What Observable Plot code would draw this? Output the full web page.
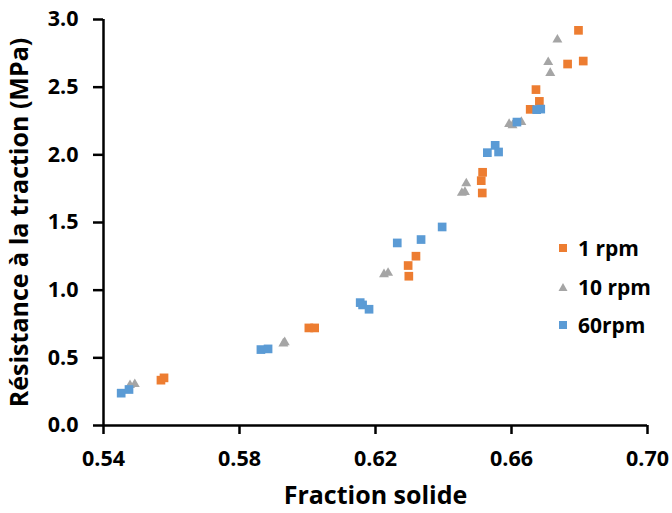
<!DOCTYPE html>
<html>
<head>
<meta charset="utf-8">
<script src="https://cdn.jsdelivr.net/npm/d3@7"></script>
<script src="https://cdn.jsdelivr.net/npm/@observablehq/plot@0.6"></script>
<style>
  html, body { margin: 0; padding: 0; background: #fff; }
  #wrap { position: relative; width: 672px; height: 513px; font-family: "Open Sans", Lato, sans-serif; }
  #legend { position: absolute; left: 556px; top: 229px; font-weight: bold; font-size: 21px; color: #000; }
  #legend .row { display: flex; align-items: center; height: 38.5px; }
  #legend svg { width: 14px; height: 14px; margin-right: 8px; }
</style>
</head>
<body>
<div id="wrap"><div id="legend"></div></div>
<script>
// Series: 1 rpm (orange squares)
const rpm1X = [0.5569, 0.5578, 0.6004, 0.6021, 0.6298, 0.6296, 0.6319, 0.6511, 0.6514, 0.6515, 0.6655, 0.6682, 0.6672, 0.6765, 0.6811, 0.6797];
const rpm1Y = [0.335, 0.352, 0.721, 0.721, 1.103, 1.182, 1.251, 1.809, 1.718, 1.871, 2.336, 2.395, 2.482, 2.671, 2.693, 2.920];
// Series: 10 rpm (gray triangles)
const rpm10X = [0.5478, 0.5492, 0.5929, 0.5933, 0.6225, 0.6237, 0.6454, 0.6463, 0.6467, 0.6593, 0.6603, 0.6629, 0.6708, 0.6714, 0.6735];
const rpm10Y = [0.298, 0.305, 0.605, 0.615, 1.117, 1.127, 1.718, 1.725, 1.789, 2.227, 2.218, 2.242, 2.685, 2.604, 2.851];
// Series: 60 rpm (blue squares)
const rpm60X = [0.5452, 0.5475, 0.5863, 0.5884, 0.6155, 0.6162, 0.6181, 0.6264, 0.6334, 0.6396, 0.6529, 0.6552, 0.6562, 0.6616, 0.6674, 0.6686];
const rpm60Y = [0.239, 0.266, 0.561, 0.566, 0.908, 0.891, 0.859, 1.349, 1.374, 1.467, 2.016, 2.070, 2.021, 2.242, 2.334, 2.338];

const seriesNames = ["1 rpm", "10 rpm", "60rpm"];
const seriesColors = ["#ED7D31", "#A5A5A5", "#5B9BD5"];
const xTicks = [0.54, 0.58, 0.62, 0.66, 0.70];
const yTicks = [0, 0.5, 1.0, 1.5, 2.0, 2.5, 3.0];
const xTitle = "Fraction solide";
const yTitle = "Résistance à la traction (MPa)";

const toRows = (xs, ys) => xs.map((x, i) => ({x, y: ys[i]}));
const d1 = toRows(rpm1X, rpm1Y);
const d10 = toRows(rpm10X, rpm10Y);
const d60 = toRows(rpm60X, rpm60Y);

const chart = Plot.plot({
  width: 672,
  height: 513,
  marginLeft: 103,
  marginRight: 25,
  marginTop: 19,
  marginBottom: 88,
  style: {fontFamily: "'Open Sans', Lato, sans-serif", fontWeight: "bold", color: "#000", background: "#fff"},
  x: {domain: [0.54, 0.70]},
  y: {domain: [0, 3]},
  marks: [
    Plot.axisX({ticks: xTicks, tickFormat: d3.format(".2f"), tickSize: 9, tickPadding: 16, fontSize: 21.5, strokeWidth: 2.5, label: null}),
    Plot.axisY({ticks: yTicks, tickFormat: d3.format(".1f"), tickSize: 10, tickPadding: 15, fontSize: 21.5, strokeWidth: 2.5, label: null}),
    Plot.axisX({ticks: [], tickSize: 0, label: xTitle, labelAnchor: "center", labelArrow: "none", labelOffset: 78, fontSize: 25}),
    Plot.axisY({ticks: [], tickSize: 0, label: yTitle, labelAnchor: "center", labelArrow: "none", labelOffset: 93, fontSize: 25}),
    Plot.ruleY([0], {stroke: "#000", strokeWidth: 2.5}),
    Plot.ruleX([0.54], {stroke: "#000", strokeWidth: 2.5}),
    Plot.dot(d1, {x: "x", y: "y", symbol: "square", r: 4.9, fill: seriesColors[0], stroke: "none"}),
    Plot.dot(d10, {x: "x", y: "y", symbol: "triangle", r: 3.7, fill: seriesColors[1], stroke: "none"}),
    Plot.dot(d60, {x: "x", y: "y", symbol: "square", r: 4.9, fill: seriesColors[2], stroke: "none"})
  ]
});
const wrap = document.getElementById("wrap");
wrap.insertBefore(chart, wrap.firstChild);
chart.style.position = "absolute";
chart.style.left = "0";
chart.style.top = "0";

// legend
const legend = document.getElementById("legend");
const shapes = ["square", "triangle", "square"];
seriesNames.forEach((name, i) => {
  const row = document.createElement("div");
  row.className = "row";
  const sym = shapes[i] === "square"
    ? `<rect x="3" y="3" width="8" height="8" fill="${seriesColors[i]}"/>`
    : `<path d="M7,3 L11.5,11 L2.5,11 Z" fill="${seriesColors[i]}"/>`;
  row.innerHTML = `<svg viewBox="0 0 14 14">${sym}</svg><span>${name}</span>`;
  legend.appendChild(row);
});
</script>
</body>
</html>
